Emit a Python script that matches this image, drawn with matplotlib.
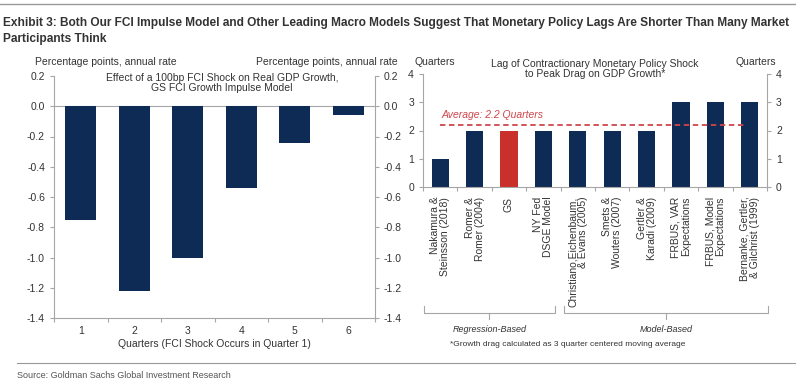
import matplotlib
matplotlib.use('Agg')
import matplotlib.pyplot as plt
from matplotlib.lines import Line2D
import numpy as np

plt.rcParams['font.family'] = ['Liberation Sans', 'DejaVu Sans']

# left panel: effect of a 100bp FCI shock on real GDP growth
quarters = [1, 2, 3, 4, 5, 6]
gdp_effect = [-0.75, -1.22, -1.00, -0.54, -0.24, -0.06]

# right panel: lag to peak drag (quarters)
studies = ['Nakamura &\nSteinsson (2018)', 'Romer &\nRomer (2004)', 'GS',
           'NY Fed\nDSGE Model', 'Christiano,Eichenbaum,\n& Evans (2005)',
           'Smets &\nWouters (2007)', 'Gertler &\nKaradi (2009)',
           'FRBUS, VAR\nExpectations', 'FRBUS, Model\nExpectations',
           'Bernanke, Gertler,\n& Gilchrist (1999)']
lags = [1, 2, 2, 2, 2, 2, 2, 3, 3, 3]
average_lag = 2.2

NAVY = '#0d2b55'
RED = '#c9302c'
GRAY = '#a6a6a6'
TXT = '#333333'

W, H = 796, 385
fig = plt.figure(figsize=(W / 100, H / 100), dpi=100)


def fx(x):
    return x / W


def fy(y):
    return 1 - y / H


def style_axes(ax):
    for s in ['left', 'right', 'bottom']:
        ax.spines[s].set_color(GRAY)
        ax.spines[s].set_linewidth(0.8)
    ax.spines['top'].set_visible(False)
    ax.tick_params(colors=GRAY, labelcolor=TXT, labelsize=7.5, width=0.8, length=3)


# ---- left panel
ax1 = fig.add_axes([fx(54), fy(318), fx(375) - fx(54), fy(76) - fy(318)])
ax1.axhline(0, color=GRAY, lw=0.8, zorder=1)
ax1.bar(quarters, gdp_effect, width=0.58, color=NAVY, zorder=2)
ax1.set_xlim(0.5, 6.5)
ax1.set_ylim(-1.4, 0.2)
yt = np.round(np.arange(-1.4, 0.21, 0.2), 1)
ax1.set_yticks(yt)
ax1.set_yticklabels([f'{v:.1f}'.replace('-0.0', '0.0') for v in yt])
ax1.tick_params(axis='y', left=True, right=True, labelleft=True, labelright=True)
ax1.set_xticks(quarters)
ax1.set_xticks(np.arange(0.5, 6.6, 1), minor=True)
style_axes(ax1)
ax1.tick_params(axis='x', which='major', length=0, pad=6)
ax1.tick_params(axis='x', which='minor', colors=GRAY, length=3, width=0.8)
ax1.set_xlabel('Quarters (FCI Shock Occurs in Quarter 1)', fontsize=7.5, color=TXT, labelpad=2)
fig.text(fx(222), fy(83), 'Effect of a 100bp FCI Shock on Real GDP Growth,\nGS FCI Growth Impulse Model',
         ha='center', va='center', fontsize=7.5, color=TXT, linespacing=1.1)

# ---- right panel
ax2 = fig.add_axes([fx(423), fy(187), fx(767) - fx(423), fy(74) - fy(187)])
x = np.arange(len(studies))
colors = [RED if s == 'GS' else NAVY for s in studies]
ax2.bar(x, lags, width=0.5, color=colors)
ax2.plot([0, 8.92], [average_lag, average_lag], color='#d0454b', lw=1.3, ls=(0, (3, 2)))
ax2.text(0.03, average_lag + 0.35, 'Average: 2.2 Quarters', color='#d0454b', fontsize=7.5,
         style='italic', va='center', ha='left')
ax2.set_xlim(-0.5, 9.5)
ax2.set_ylim(0, 4)
ax2.set_yticks(range(0, 5))
ax2.tick_params(axis='y', left=True, right=True, labelleft=True, labelright=True)
ax2.set_xticks(x)
ax2.set_xticks(np.arange(-0.5, 9.6, 1), minor=True)
style_axes(ax2)
ax2.set_xticklabels(studies, rotation=90, ha='center', va='top', multialignment='right',
                    fontsize=7.5, linespacing=1.0)
ax2.tick_params(axis='x', which='major', length=0, pad=7)
ax2.tick_params(axis='x', which='minor', colors=GRAY, length=3, width=0.8)
fig.text(fx(595), fy(69), 'Lag of Contractionary Monetary Policy Shock\nto Peak Drag on GDP Growth*',
         ha='center', va='center', fontsize=7.5, color=TXT, linespacing=1.1)


# group brackets below the right panel
def bracket(x0, x1, y, label):
    f0, f1, fb = fx(x0), fx(x1), fy(y)
    up = 7 / H
    fig.add_artist(Line2D([f0, f0, f1, f1], [fb + up, fb, fb, fb + up], color=GRAY, lw=0.8))
    xm = (f0 + f1) / 2
    fig.add_artist(Line2D([xm, xm], [fb, fb - 6 / H], color=GRAY, lw=0.8))
    fig.text(xm, fy(329), label, ha='center', va='center', fontsize=6.5, style='italic', color=TXT)


bracket(424, 555, 313, 'Regression-Based')
bracket(564, 768, 313, 'Model-Based')
fig.text(fx(450), fy(344), '*Growth drag calculated as 3 quarter centered moving average',
         fontsize=6, color=TXT, va='center')

# axis unit labels
fig.text(fx(35), fy(62), 'Percentage points, annual rate', fontsize=7.5, color=TXT, va='center')
fig.text(fx(398), fy(62), 'Percentage points, annual rate', fontsize=7.5, color=TXT, va='center', ha='right')
fig.text(fx(415), fy(62), 'Quarters', fontsize=7.5, color=TXT, va='center')
fig.text(fx(776), fy(62), 'Quarters', fontsize=7.5, color=TXT, va='center', ha='right')

# title, rules and source
fig.add_artist(Line2D([0, 1], [fy(4), fy(4)], color='#999999', lw=1.0))
fig.text(fx(3), fy(31), 'Exhibit 3: Both Our FCI Impulse Model and Other Leading Macro Models Suggest That Monetary Policy Lags Are Shorter Than Many Market\nParticipants Think',
         fontsize=8.6, fontweight='bold', color='#333333', va='center', linespacing=1.35,
         family=['Liberation Sans Narrow', 'DejaVu Sans Condensed', 'Liberation Sans'])
fig.add_artist(Line2D([fx(17), 1], [fy(363), fy(363)], color='#999999', lw=0.8))
fig.text(fx(17), fy(376), 'Source: Goldman Sachs Global Investment Research', fontsize=6.5,
         color='#555555', va='center')

fig.savefig('out.png', dpi=100)
